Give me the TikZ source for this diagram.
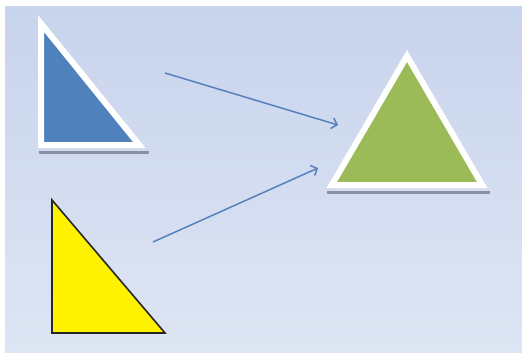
\documentclass[tikz,border=0pt]{standalone}
\usetikzlibrary{arrows.meta}
\definecolor{bgtop}{RGB}{200,212,237}
\definecolor{bgbot}{RGB}{222,229,243}
\definecolor{triblue}{RGB}{79,129,189}
\definecolor{trigreen}{RGB}{155,187,89}
\definecolor{arrowblue}{RGB}{86,128,190}
\definecolor{shadowgray}{RGB}{118,126,146}
\tikzset{
  outlined/.style={draw=white, line width=6pt, line join=miter, miter limit=20},
  shadowline/.style={draw=shadowgray, line width=3pt, opacity=0.8},
  linkarrow/.style={draw=arrowblue, line width=1.5pt, -{Straight Barb[length=5pt,width=11pt,line width=1.5pt]}},
  yellowtri/.style={fill=yellow, draw=black!85, line width=1.6pt, line join=miter, miter limit=20}
}
\begin{document}
\begin{tikzpicture}[x=1pt,y=-1pt]
\useasboundingbox (0,0) rectangle (522,353);
\fill[white] (0,0) rectangle (522,353);
\shade[top color=bgtop, bottom color=bgbot] (5,7) rectangle (522,353);
% shadows
\draw[shadowline] (39,152) -- (149,152);
\draw[shadowline] (327,192) -- (490,192);
% blue triangle
\coordinate (b1) at (41,23.5);
\coordinate (b2) at (41,145);
\coordinate (b3) at (139.3,145);
\fill[triblue] (b1) -- (b2) -- (b3) -- cycle;
\draw[outlined] (b1) -- (b2) -- (b3) -- cycle;
% green triangle
\coordinate (g1) at (407,56);
\coordinate (g2) at (331.8,185);
\coordinate (g3) at (482.2,185);
\fill[trigreen] (g1) -- (g2) -- (g3) -- cycle;
\draw[outlined] (g1) -- (g2) -- (g3) -- cycle;
% yellow triangle
\coordinate (y1) at (52,200);
\coordinate (y2) at (52,333);
\coordinate (y3) at (165,333);
\draw[yellowtri] (y1) -- (y2) -- (y3) -- cycle;
% arrows
\coordinate (a1s) at (165,73);
\coordinate (a1e) at (338,125);
\coordinate (a2s) at (153,242);
\coordinate (a2e) at (318,168);
\draw[linkarrow] (a1s) -- (a1e);
\draw[linkarrow] (a2s) -- (a2e);
\end{tikzpicture}
\end{document}
